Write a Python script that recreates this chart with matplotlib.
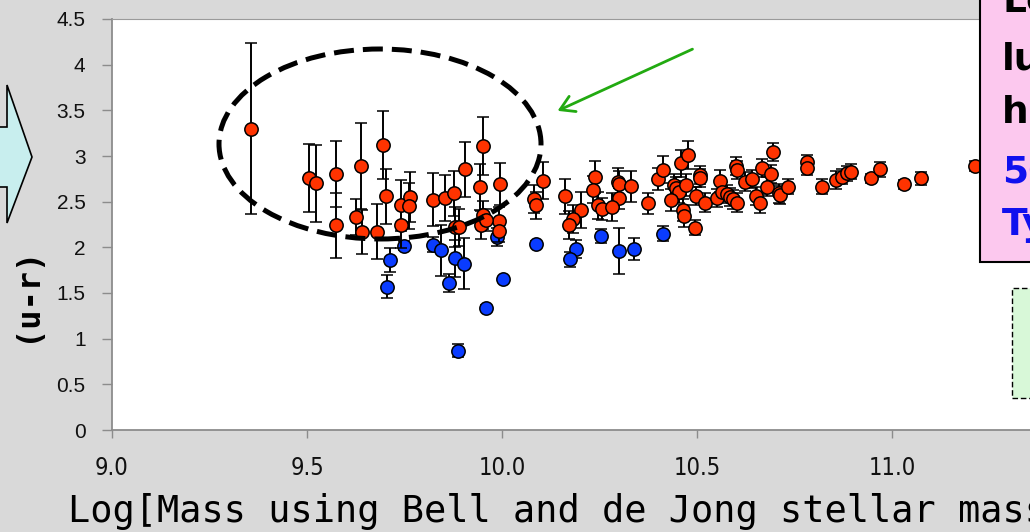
import matplotlib
matplotlib.use("Agg")
import matplotlib.pyplot as plt
import matplotlib.patches as mpatches

# ── data ──────────────────────────────────────────────────────────────
red_x = [9.356, 9.505, 9.524, 9.574, 9.574, 9.625, 9.638, 9.640, 9.680, 9.694,
         9.703, 9.740, 9.740, 9.764, 9.762, 9.822, 9.855, 9.876, 9.905, 9.952,
         9.944, 9.995, 9.879, 9.891, 9.951, 9.946, 9.992, 9.993, 9.960, 10.106,
         10.083, 10.088, 10.162, 10.202, 10.181, 10.171, 10.238, 10.234, 10.247, 10.257,
         10.298, 10.300, 10.300, 10.283, 10.332, 10.375, 10.399, 10.414, 10.458, 10.478,
         10.440, 10.447, 10.453, 10.433, 10.465, 10.467, 10.473, 10.508, 10.508, 10.497,
         10.521, 10.495, 10.559, 10.550, 10.563, 10.576, 10.585, 10.593, 10.603, 10.600,
         10.603, 10.623, 10.640, 10.651, 10.662, 10.666, 10.696, 10.691, 10.680, 10.711,
         10.713, 10.734, 10.783, 10.782, 10.820, 10.856, 10.871, 10.884, 10.894, 10.946,
         10.969, 11.031, 11.074, 11.213]
red_y = [3.30, 2.76, 2.70, 2.80, 2.24, 2.33, 2.89, 2.17, 2.17, 3.12,
         2.56, 2.46, 2.24, 2.55, 2.45, 2.52, 2.54, 2.59, 2.855, 3.11,
         2.66, 2.69, 2.22, 2.22, 2.355, 2.245, 2.29, 2.18, 2.30, 2.73,
         2.53, 2.46, 2.56, 2.41, 2.31, 2.245, 2.77, 2.63, 2.46, 2.42,
         2.72, 2.69, 2.535, 2.44, 2.67, 2.48, 2.745, 2.85, 2.92, 3.01,
         2.68, 2.65, 2.61, 2.52, 2.41, 2.34, 2.68, 2.79, 2.76, 2.56,
         2.49, 2.215, 2.73, 2.54, 2.61, 2.585, 2.555, 2.525, 2.49, 2.89,
         2.85, 2.72, 2.745, 2.56, 2.48, 2.87, 3.04, 2.80, 2.665, 2.59,
         2.575, 2.665, 2.93, 2.87, 2.665, 2.74, 2.775, 2.81, 2.83, 2.755,
         2.855, 2.69, 2.755, 2.89]
red_err = [0.94, 0.37, 0.42, 0.36, 0.36, 0.20, 0.47, 0.24, 0.30, 0.37,
           0.30, 0.28, 0.25, 0.27, 0.25, 0.29, 0.25, 0.25, 0.30, 0.32,
           0.25, 0.23, 0.22, 0.20, 0.15, 0.15, 0.15, 0.12, 0.12, 0.20,
           0.15, 0.15, 0.19, 0.20, 0.15, 0.15, 0.17, 0.15, 0.15, 0.12,
           0.15, 0.15, 0.12, 0.15, 0.17, 0.12, 0.12, 0.15, 0.15, 0.15,
           0.12, 0.12, 0.12, 0.12, 0.12, 0.12, 0.12, 0.10, 0.10, 0.10,
           0.10, 0.08, 0.12, 0.10, 0.10, 0.10, 0.10, 0.10, 0.10, 0.10,
           0.10, 0.10, 0.10, 0.10, 0.10, 0.10, 0.10, 0.10, 0.10, 0.10,
           0.10, 0.08, 0.08, 0.08, 0.08, 0.10, 0.08, 0.08, 0.08, 0.05,
           0.08, 0.05, 0.07, 0.05]

blue_x = [9.712, 9.705, 9.749, 9.822, 9.843, 9.879, 9.903, 9.863, 10.002, 9.958,
          9.888, 9.986, 10.087, 10.253, 10.191, 10.174, 10.300, 10.339, 10.414]
blue_y = [1.86, 1.57, 2.02, 2.03, 1.97, 1.88, 1.82, 1.61, 1.65, 1.34,
          0.87, 2.11, 2.04, 2.125, 1.98, 1.87, 1.96, 1.98, 2.15]
blue_err = [0.13, 0.13, 0.05, 0.08, 0.28, 0.20, 0.28, 0.10, 0.03, 0.03,
            0.07, 0.10, 0.03, 0.08, 0.10, 0.08, 0.25, 0.12, 0.08]

y_ticks = [0, 0.5, 1, 1.5, 2, 2.5, 3, 3.5, 4, 4.5]
y_labels = ["0", "0.5", "1", "1.5", "2", "2.5", "3", "3.5", "4", "4.5"]
x_ticks = [9.0, 9.5, 10.0, 10.5, 11.0, 11.5]
x_labels = ["9.0", "9.5", "10.0", "10.5", "11.0", "11.5"]

W, H = 1030, 532
BG = "#d9d9d9"


def px(x, y):
    """pixel coords (top-left origin) -> figure fraction"""
    return x / W, 1 - y / H


fig = plt.figure(figsize=(W / 100, H / 100), dpi=100, facecolor=BG)
ax = fig.add_axes([112 / W, 102 / H, 975 / W, 411 / H])
ax.set_facecolor("white")

err_kw = dict(fmt="o", ms=9.6, mec="black", mew=1.1, ecolor="black",
              elinewidth=1.4, capsize=4.3, capthick=1.4)
ax.errorbar(blue_x, blue_y, yerr=blue_err, mfc="#0a3cff", zorder=3, **err_kw)
ax.errorbar(red_x, red_y, yerr=red_err, mfc="#ff3300", zorder=4, **err_kw)

ax.set_xlim(9.0, 11.5)
ax.set_ylim(0, 4.5)
ax.set_yticks(y_ticks, y_labels)
ax.set_xticks(x_ticks, x_labels)
ax.tick_params(axis="y", direction="out", length=7, width=1, color="#8c8c8c",
               pad=12, labelsize=15, labelcolor="#111111")
ax.tick_params(axis="x", direction="out", length=6, width=1, color="#8c8c8c",
               pad=13, labelsize=17, labelcolor="#111111")
for lab in ax.get_xticklabels():
    lab.set_fontstretch("condensed")
for lab in ax.get_yticklabels():
    lab.set_family("Liberation Sans")
for s in ("left", "bottom"):
    ax.spines[s].set_color("#8c8c8c")
    ax.spines[s].set_linewidth(1.3)
ax.spines["top"].set_color("#9a9a9a")
ax.spines["top"].set_linewidth(0.8)
ax.spines["right"].set_visible(False)

# axis titles
fig.text(68 / W, 1 - 522 / H, "Log[Mass using Bell and de Jong stellar mass-to-light ratios]",
         family="DejaVu Sans Mono", fontsize=26.6, ha="left", va="baseline", color="black")
fig.text(*px(26, 294), "(u-r)", family="DejaVu Sans Mono", fontweight="bold",
         fontsize=23, rotation=90, ha="center", va="center", color="black")

# left arrow shape
arrow_pts = [px(-5, 127), px(7, 127), px(7, 85), px(32, 157), px(7, 223),
             px(7, 187), px(-5, 187)]
fig.patches.append(mpatches.Polygon(arrow_pts, closed=True, transform=fig.transFigure,
                                    facecolor="#c8eeee", edgecolor="black", lw=1.2))

# dashed ellipse
cx, cy = px(380, 144)
fig.patches.append(mpatches.Ellipse((cx, cy), 322 / W, 190 / H, transform=fig.transFigure,
                                    fill=False, edgecolor="black", lw=3.6,
                                    linestyle=(0, (4, 1.8)), zorder=10))

# green arrow
fig.add_artist(mpatches.FancyArrowPatch(px(695, 48), px(555, 112), transform=fig.transFigure,
                                        arrowstyle="->,head_length=10,head_width=6",
                                        color="#22aa11", lw=2.0, zorder=10))

# pink note box (runs off the slide edge)
fig.patches.append(mpatches.Rectangle(px(980, 262), 70 / W, 280 / H, transform=fig.transFigure,
                                      facecolor="#fcc8ee", edgecolor="black", lw=1.5, zorder=11))
note_lines = [("Low", "black", 12), ("luminosity", "black", 70), ("high", "black", 123),
              ("50%", "#1010ee", 183), ("Type", "#1010ee", 235)]
for txt, col, yb in note_lines:
    fig.text(*px(1002, yb), txt, color=col, fontsize=27, fontweight="bold",
             family="DejaVu Sans", ha="left", va="baseline", zorder=12)

# green dashed box
fig.patches.append(mpatches.Rectangle(px(1012, 398), 40 / W, 110 / H, transform=fig.transFigure,
                                      facecolor="#d8f8d8", edgecolor="black", lw=1.0,
                                      linestyle=(0, (4, 2)), zorder=11))

fig.savefig("out.png", dpi=100, facecolor=BG)
